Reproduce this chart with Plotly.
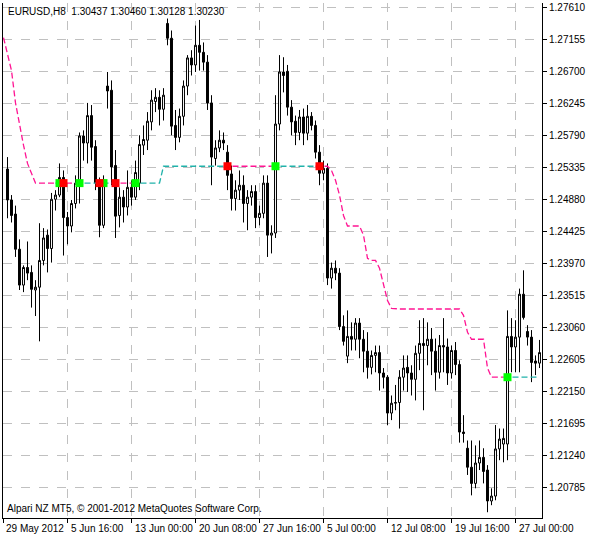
import plotly.graph_objects as go

bars = list(range(1, 135))
opens = [1.2532,1.2488,1.2468,1.2418,1.2367,1.2392,1.2385,1.2360,1.2364,1.2402,
 1.2438,1.2419,1.2489,1.2495,1.2520,1.2463,1.2451,1.2483,1.2512,1.2579,
 1.2569,1.2608,1.2564,1.2512,1.2452,1.2650,1.2644,1.2537,1.2466,1.2492,
 1.2478,1.2506,1.2492,1.2512,1.2566,1.2573,1.2599,1.2628,1.2634,1.2617,
 1.2739,1.2718,1.2594,1.2577,1.2607,1.2650,1.2690,1.2680,1.2708,1.2698,
 1.2684,1.2626,1.2547,1.2562,1.2573,1.2556,1.2525,1.2490,1.2502,1.2509,
 1.2483,1.2492,1.2500,1.2463,1.2469,1.2512,1.2438,1.2441,1.2596,1.2670,
 1.2671,1.2620,1.2600,1.2584,1.2606,1.2583,1.2607,1.2594,1.2556,1.2526,
 1.2533,1.2377,1.2391,1.2384,1.2308,1.2266,1.2294,1.2290,1.2313,1.2290,
 1.2273,1.2250,1.2267,1.2271,1.2242,1.2236,1.2185,1.2199,1.2200,1.2236,
 1.2250,1.2242,1.2233,1.2270,1.2284,1.2281,1.2290,1.2273,1.2243,1.2281,
 1.2279,1.2242,1.2274,1.2254,1.2158,1.2135,1.2108,1.2085,1.2114,1.2122,
 1.2104,1.2060,1.2067,1.2134,1.2141,1.2141,1.2294,1.2279,1.2293,1.2354,
 1.2301,1.2293,1.2259,1.2256]
closes = [1.2488,1.2466,1.2418,1.2367,1.2392,1.2384,1.2361,1.2364,1.2402,1.2434,
 1.2419,1.2489,1.2495,1.2520,1.2463,1.2451,1.2483,1.2512,1.2579,1.2569,
 1.2608,1.2563,1.2512,1.2452,1.2516,1.2643,1.2535,1.2465,1.2492,1.2478,
 1.2506,1.2492,1.2527,1.2567,1.2574,1.2600,1.2630,1.2634,1.2617,1.2637,
 1.2718,1.2593,1.2577,1.2607,1.2650,1.2690,1.2680,1.2708,1.2698,1.2684,
 1.2626,1.2549,1.2562,1.2573,1.2569,1.2523,1.2490,1.2502,1.2509,1.2483,
 1.2492,1.2500,1.2463,1.2469,1.2512,1.2438,1.2441,1.2596,1.2670,1.2665,
 1.2620,1.2599,1.2584,1.2606,1.2583,1.2607,1.2594,1.2556,1.2526,1.2533,
 1.2377,1.2391,1.2384,1.2308,1.2287,1.2294,1.2290,1.2313,1.2290,1.2273,
 1.2250,1.2267,1.2271,1.2242,1.2236,1.2185,1.2199,1.2200,1.2236,1.2249,
 1.2242,1.2233,1.2270,1.2284,1.2281,1.2290,1.2273,1.2243,1.2281,1.2279,
 1.2242,1.2274,1.2254,1.2158,1.2156,1.2108,1.2085,1.2114,1.2122,1.2102,
 1.2060,1.2067,1.2134,1.2148,1.2149,1.2294,1.2279,1.2293,1.2354,1.2321,
 1.2293,1.2257,1.2256,1.2271]
highs = [1.2549,1.2495,1.2480,1.2432,1.2395,1.2429,1.2395,1.2374,1.2455,1.2448,
 1.2446,1.2498,1.2502,1.2540,1.2530,1.2471,1.2488,1.2523,1.2584,1.2587,
 1.2626,1.2623,1.2573,1.2520,1.2523,1.2670,1.2658,1.2559,1.2506,1.2502,
 1.2530,1.2516,1.2544,1.2580,1.2594,1.2613,1.2644,1.2647,1.2644,1.2647,
 1.2746,1.2729,1.2616,1.2618,1.2658,1.2694,1.2701,1.2736,1.2744,1.2712,
 1.2694,1.2637,1.2573,1.2587,1.2584,1.2566,1.2537,1.2516,1.2530,1.2523,
 1.2502,1.2509,1.2509,1.2480,1.2523,1.2523,1.2452,1.2637,1.2694,1.2691,
 1.2680,1.2630,1.2608,1.2616,1.2618,1.2623,1.2613,1.2601,1.2566,1.2544,
 1.2540,1.2399,1.2402,1.2391,1.2324,1.2331,1.2314,1.2320,1.2320,1.2303,
 1.2300,1.2274,1.2281,1.2281,1.2249,1.2239,1.2210,1.2225,1.2246,1.2267,
 1.2267,1.2253,1.2281,1.2317,1.2320,1.2314,1.2306,1.2291,1.2296,1.2320,
 1.2291,1.2281,1.2286,1.2260,1.2182,1.2146,1.2146,1.2139,1.2146,1.2135,
 1.2111,1.2078,1.2168,1.2163,1.2163,1.2331,1.2320,1.2317,1.2362,1.2388,
 1.2310,1.2303,1.2267,1.2289]
lows = [1.2462,1.2456,1.2407,1.2360,1.2357,1.2374,1.2335,1.2323,1.2287,1.2395,
 1.2385,1.2399,1.2473,1.2492,1.2409,1.2425,1.2442,1.2476,1.2483,1.2544,
 1.2540,1.2544,1.2502,1.2435,1.2448,1.2618,1.2509,1.2434,1.2449,1.2456,
 1.2466,1.2480,1.2488,1.2502,1.2552,1.2559,1.2587,1.2613,1.2594,1.2601,
 1.2708,1.2580,1.2559,1.2570,1.2594,1.2637,1.2665,1.2670,1.2672,1.2672,
 1.2616,1.2509,1.2537,1.2556,1.2559,1.2502,1.2473,1.2473,1.2488,1.2456,
 1.2445,1.2480,1.2448,1.2452,1.2462,1.2407,1.2412,1.2434,1.2587,1.2641,
 1.2608,1.2580,1.2566,1.2573,1.2566,1.2573,1.2587,1.2547,1.2509,1.2516,
 1.2367,1.2362,1.2374,1.2303,1.2281,1.2256,1.2274,1.2274,1.2263,1.2243,
 1.2234,1.2240,1.2243,1.2217,1.2220,1.2168,1.2175,1.2189,1.2163,1.2217,
 1.2215,1.2210,1.2203,1.2246,1.2189,1.2253,1.2239,1.2217,1.2234,1.2243,
 1.2225,1.2234,1.2239,1.2143,1.2143,1.2097,1.2068,1.2078,1.2104,1.2085,
 1.2044,1.2054,1.2061,1.2118,1.2115,1.2118,1.2243,1.2243,1.2243,1.2318,
 1.2281,1.2229,1.2239,1.2249]

# trailing stop line, bars 0..134
trail = [1.2719,1.2694,1.2672,1.2626,1.2594,1.2566,1.2540,1.2526] + [1.2512]*32 + \
        [1.2536]*42 + [1.2530,1.2516,1.2495,1.2466] + [1.2451]*4 + \
        [1.2438,1.2405,1.2402,1.2402,1.2391,1.2367,1.2345,1.2334] + [1.2333]*17 + \
        [1.2324,1.2300] + [1.2290]*4 + [1.2249] + [1.2236]*13
buy_bars = [14, 19, 25, 33, 68, 126]
sell_bars = [15, 24, 28, 56, 79]

x_ticks = [0, 16, 32, 48, 64, 80, 96, 112, 128]
x_labels = ["29 May 2012", "5 Jun 16:00", "13 Jun 00:00", "20 Jun 08:00", "27 Jun 16:00",
            "5 Jul 00:00", "12 Jul 08:00", "19 Jul 16:00", "27 Jul 00:00"]
y_ticks = [1.20785, 1.21240, 1.21695, 1.22150, 1.22605, 1.23060, 1.23515, 1.23970,
           1.24425, 1.24880, 1.25335, 1.25790, 1.26245, 1.26700, 1.27155, 1.27610]

PINK, TEAL = "#ff1493", "#20b2aa"
state = []
cur = "down"
sig = {b: "up" for b in buy_bars}
sig.update({b: "down" for b in sell_bars})
for i in range(len(trail)):
    if i in sig:
        cur = sig[i]
    state.append(cur)

fig = go.Figure()
for st, col in (("down", PINK), ("up", TEAL)):
    ys = []
    for i, v in enumerate(trail):
        on = state[i] == st or (i + 1 < len(trail) and state[i + 1] == st)
        ys.append(v if on else None)
    fig.add_trace(go.Scatter(x=list(range(len(trail))), y=ys, mode="lines",
                             line=dict(color=col, width=1.3, dash="6px,3px"),
                             connectgaps=False, hoverinfo="skip"))

fig.add_trace(go.Candlestick(x=bars, open=opens, high=highs, low=lows, close=closes,
    increasing=dict(line=dict(color="black", width=1), fillcolor="white"),
    decreasing=dict(line=dict(color="black", width=1), fillcolor="black"),
    whiskerwidth=0))

fig.add_trace(go.Scatter(x=buy_bars, y=[trail[b] for b in buy_bars], mode="markers",
                         marker=dict(symbol="square", size=8, color="#00ff00")))
fig.add_trace(go.Scatter(x=sell_bars, y=[trail[b] for b in sell_bars], mode="markers",
                         marker=dict(symbol="square", size=8, color="#ff0000")))

annots = [
    dict(text="EURUSD,H8  1.30437 1.30460 1.30128 1.30230", xref="paper", yref="paper",
         x=0.005, y=0.998, xanchor="left", yanchor="top", showarrow=False, font=dict(size=10)),
    dict(text="Alpari NZ MT5, © 2001-2012 MetaQuotes Software Corp.", xref="paper",
         yref="paper", x=0.003, y=0.004, xanchor="left", yanchor="bottom",
         showarrow=False, font=dict(size=10)),
]
for tv, tl in zip(x_ticks, x_labels):
    annots.append(dict(text=tl, x=max(tv, 0), xref="x", y=0, yref="paper", xanchor="left",
                       yanchor="top", yshift=-3, xshift=0 if tv == 0 else 1,
                       showarrow=False, font=dict(size=10)))

fig.update_layout(
    width=594, height=540, showlegend=False,
    paper_bgcolor="white", plot_bgcolor="white",
    margin=dict(l=3, r=52, t=3, b=22),
    font=dict(family="Liberation Sans, Arial", size=10, color="black"),
    xaxis=dict(range=[-0.125, 134.625], tickmode="array", tickvals=x_ticks, showticklabels=False,
               automargin=False,
               showgrid=True, gridcolor="#c0c0c0", griddash="dash", gridwidth=1,
               showline=True, linecolor="black", mirror=False, ticks="outside",
               ticklen=4, tickcolor="black", rangeslider=dict(visible=False),
               zeroline=False),
    yaxis=dict(range=[1.20358, 1.27681], side="right", tickmode="array",
               tickvals=y_ticks, ticktext=[f"{v:.5f}" for v in y_ticks],
               automargin=False,
               showgrid=True, gridcolor="#c0c0c0", griddash="dash", gridwidth=1,
               showline=True, linecolor="black", mirror=True, ticks="outside",
               ticklen=4, tickcolor="black", zeroline=False),
    annotations=annots,
)
fig.write_html("out.html", config={"displayModeBar": False},
               post_script="document.body.style.margin='0';document.body.style.overflow='hidden';")
